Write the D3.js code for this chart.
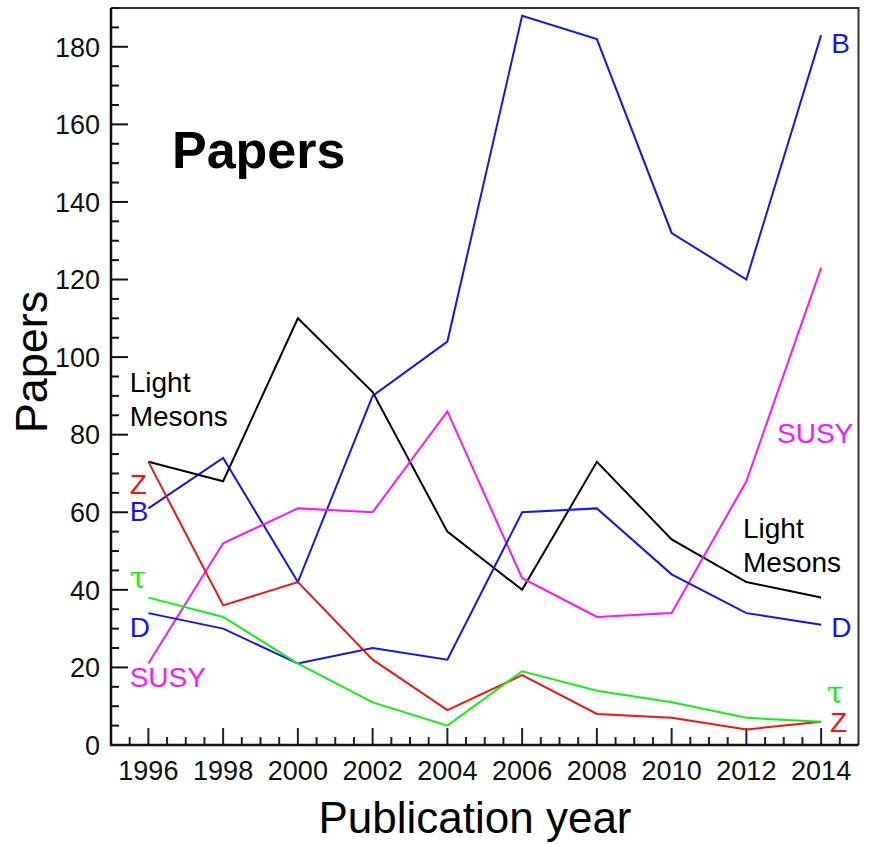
<!DOCTYPE html>
<html>
<head>
    <title>Papers</title>
    <script src="https://d3js.org/d3.v7.min.js"></script>
    <style>
        body {
            margin: 0;
            background-color: #fff;
            font-family: 'Liberation Sans', Arial, sans-serif;
        }
        .series {
            fill: none;
            stroke-width: 2px;
            stroke-linejoin: miter;
        }
        .tick-label {
            font-size: 27px;
            fill: #111;
        }
        .series-label {
            font-size: 28px;
        }
    </style>
</head>
<body>
    <div id="chart"></div>

    <script>
        const years = [1996, 1998, 2000, 2002, 2004, 2006, 2008, 2010, 2012, 2014];

        const bValues = [61, 74, 42, 90, 104, 188, 182, 132, 120, 183];
        const lightMesonValues = [73, 68, 110, 91, 55, 40, 73, 53, 42, 38];
        const susyValues = [21, 52, 61, 60, 86, 43, 33, 34, 68, 123];
        const dValues = [34, 30, 21, 25, 22, 60, 61, 44, 34, 31];
        const zValues = [73, 36, 42, 22, 9, 18, 8, 7, 4, 6];
        const tauValues = [38, 33, 21, 11, 5, 19, 14, 11, 7, 6];

        const seriesNames = ['B', 'Light Mesons', 'SUSY', 'D', 'Z', 'τ'];
        const seriesColors = ['#1414f5', '#000000', '#ff14ff', '#1414f5', '#f51414', '#14f014'];
        const seriesValues = [bValues, lightMesonValues, susyValues, dValues, zValues, tauValues];

        const yTicks = [0, 20, 40, 60, 80, 100, 120, 140, 160, 180];

        // label anchors in data units: [year, value]
        const leftLabels = [
            { text: ['Light', 'Mesons'], color: '#000', at: [1995.5, 91] },
            { text: ['Z'], color: '#f51414', at: [1995.5, 64.7] },
            { text: ['B'], color: '#1414f5', at: [1995.5, 57.7] },
            { text: ['τ'], color: '#14f014', at: [1995.5, 40.5], serif: true },
            { text: ['D'], color: '#1414f5', at: [1995.5, 27.8] },
            { text: ['SUSY'], color: '#ff14ff', at: [1995.5, 15] }
        ];
        const rightLabels = [
            { text: ['B'], color: '#1414f5', at: [2014.27, 178.4] },
            { text: ['SUSY'], color: '#ff14ff', at: [2012.82, 77.9] },
            { text: ['Light', 'Mesons'], color: '#000', at: [2011.91, 53.4] },
            { text: ['D'], color: '#1414f5', at: [2014.27, 27.8] },
            { text: ['τ'], color: '#14f014', at: [2014.15, 10.8], serif: true },
            { text: ['Z'], color: '#f51414', at: [2014.24, 3.4] }
        ];

        const width = 877, height = 844;
        const plotLeft = 111, plotRight = 858.5, plotTop = 8, plotBottom = 745;

        const svg = d3.select('#chart').append('svg')
            .attr('width', width)
            .attr('height', height);

        const x = d3.scaleLinear().domain([1995, 2015]).range([plotLeft, plotRight]);
        const y = d3.scaleLinear().domain([0, 190]).range([plotBottom, plotTop]);

        // frame (top/right)
        svg.append('path')
            .attr('d', `M${plotLeft},${plotTop}H${plotRight}V${plotBottom}`)
            .attr('fill', 'none')
            .attr('stroke', '#333')
            .attr('stroke-width', 2);

        // y axis ticks
        const yMinor = d3.range(0, 191, 5);
        svg.append('g').selectAll('line')
            .data(yMinor)
            .join('line')
            .attr('x1', plotLeft)
            .attr('x2', d => plotLeft + (d % 20 === 0 ? 17 : 8))
            .attr('y1', d => y(d))
            .attr('y2', d => y(d))
            .attr('stroke', '#111')
            .attr('stroke-width', 2);

        svg.append('g').selectAll('text')
            .data(yTicks)
            .join('text')
            .attr('class', 'tick-label')
            .attr('x', 100)
            .attr('y', d => y(d))
            .attr('dy', '0.36em')
            .attr('text-anchor', 'end')
            .text(d => d);

        // x axis ticks
        const xMinor = d3.range(1995.5, 2015, 0.5);
        svg.append('g').selectAll('line')
            .data(xMinor)
            .join('line')
            .attr('x1', d => x(d))
            .attr('x2', d => x(d))
            .attr('y1', plotBottom)
            .attr('y2', d => plotBottom - (years.includes(d) ? 17 : 8))
            .attr('stroke', '#1c1c55')
            .attr('stroke-width', 2);

        svg.append('g').selectAll('text')
            .data(years)
            .join('text')
            .attr('class', 'tick-label')
            .attr('x', d => x(d))
            .attr('y', 780)
            .attr('text-anchor', 'middle')
            .text(d => d);

        // axis lines
        svg.append('path')
            .attr('d', `M${plotLeft},${plotTop}V${plotBottom}H${plotRight}`)
            .attr('fill', 'none')
            .attr('stroke', '#111')
            .attr('stroke-width', 2.5);

        // series
        const line = d3.line()
            .x((d, i) => x(years[i]))
            .y(d => y(d));

        svg.append('g').selectAll('path')
            .data(seriesValues)
            .join('path')
            .attr('class', 'series')
            .attr('stroke', (d, i) => seriesColors[i])
            .attr('d', line);

        // series labels
        function drawLabels(labels) {
            const g = svg.append('g');
            labels.forEach(l => {
                const t = g.append('text')
                    .attr('class', 'series-label')
                    .attr('x', x(l.at[0]))
                    .attr('y', y(l.at[1]))
                    .attr('fill', l.color);
                if (l.serif) {
                    t.style('font-family', "'DejaVu Serif', serif").style('font-size', '30px');
                }
                l.text.forEach((s, i) => {
                    t.append('tspan')
                        .attr('x', x(l.at[0]))
                        .attr('dy', i === 0 ? 0 : 34)
                        .text(s);
                });
            });
        }
        drawLabels(leftLabels);
        drawLabels(rightLabels);

        // titles
        svg.append('text')
            .attr('x', 172)
            .attr('y', 168)
            .style('font-size', '52px')
            .style('font-weight', 'bold')
            .text('Papers');

        svg.append('text')
            .attr('transform', 'translate(47,362) rotate(-90)')
            .attr('text-anchor', 'middle')
            .style('font-size', '45px')
            .text('Papers');

        svg.append('text')
            .attr('x', 475)
            .attr('y', 833)
            .attr('text-anchor', 'middle')
            .style('font-size', '44px')
            .text('Publication year');
    </script>
</body>
</html>
